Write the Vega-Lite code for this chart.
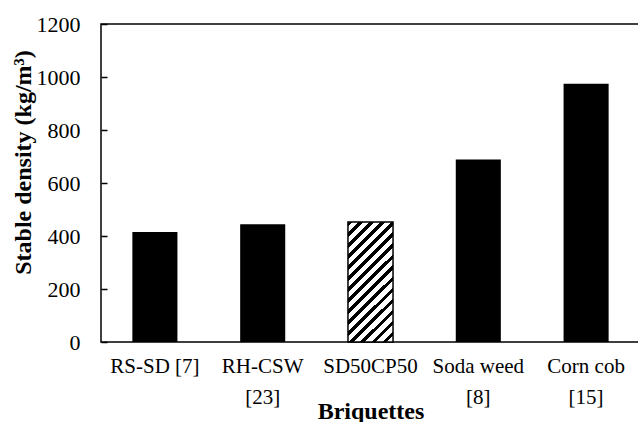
{
  "$schema": "https://vega.github.io/schema/vega-lite/v6.json",
  "autosize": "none",
  "padding": {"left": 101, "top": 24, "right": 0, "bottom": 80},
  "width": 539,
  "height": 318,
  "background": "white",
  "config": {
    "view": {"stroke": "black", "strokeWidth": 1.5},
    "font": "Liberation Serif"
  },
  "data": {
    "values": [
      {"briquette": "RS-SD [7]", "density": 415, "type": "lit"},
      {"briquette": "RH-CSW|[23]", "density": 444, "type": "lit"},
      {"briquette": "SD50CP50", "density": 453, "type": "this"},
      {"briquette": "Soda weed|[8]", "density": 689, "type": "lit"},
      {"briquette": "Corn cob|[15]", "density": 975, "type": "lit"}
    ]
  },
  "encoding": {
    "x": {
      "field": "briquette",
      "type": "nominal",
      "sort": null,
      "scale": {
        "domain": ["RS-SD [7]", "RH-CSW|[23]", "SD50CP50", "Soda weed|[8]", "Corn cob|[15]"],
        "paddingInner": 0.582, "paddingOuter": 0.291
      },
      "axis": {
        "title": "Briquettes",
        "titleFont": "Liberation Serif",
        "titleFontSize": 24,
        "titleFontWeight": "bold",
        "titleColor": "black",
        "titleBaseline": "alphabetic",
        "titleY": 76,
        "labelExpr": "split(datum.label, '|')",
        "labelFont": "Liberation Serif",
        "labelFontSize": 21,
        "labelColor": "black",
        "labelAngle": 0,
        "labelBaseline": "top",
        "labelPadding": 13,
        "labelLineHeight": 31,
        "labelOverlap": false,
        "ticks": false,
        "domain": false
      }
    },
    "y": {
      "field": "density",
      "type": "quantitative",
      "scale": {"domain": [0, 1200], "nice": false},
      "axis": {
        "title": "Stable density (kg/m³)",
        "titleFont": "Liberation Serif",
        "titleFontSize": 24,
        "titleFontWeight": "bold",
        "titleColor": "black",
        "titleX": -78,
        "titleY": 138,
        "titleAngle": -90,
        "titleAlign": "center",
        "titleBaseline": "middle",
        "values": [0, 200, 400, 600, 800, 1000, 1200],
        "format": "d",
        "labelFont": "Liberation Serif",
        "labelFontSize": 22,
        "labelColor": "black",
        "labelPadding": 27,
        "labelFlush": false,
        "tickSize": -6,
        "tickColor": "black",
        "tickWidth": 1.5,
        "domain": false,
        "grid": false
      }
    }
  },
  "layer": [
    {
      "transform": [{"filter": "datum.type === 'lit'"}],
      "mark": {"type": "bar", "color": "black"}
    },
    {
      "transform": [{"filter": "datum.type === 'this'"}],
      "mark": {
        "type": "bar",
        "stroke": "black",
        "strokeWidth": 1.5,
        "fill": {
          "gradient": "linear",
          "x1": 0, "y1": 0, "x2": 0.452, "y2": 1.2055,
          "stops": [
            {"offset": 0, "color": "black"}, {"offset": 0.028, "color": "black"}, {"offset": 0.028, "color": "white"}, {"offset": 0.0667, "color": "white"},
            {"offset": 0.0667, "color": "black"}, {"offset": 0.0947, "color": "black"}, {"offset": 0.0947, "color": "white"}, {"offset": 0.1333, "color": "white"},
            {"offset": 0.1333, "color": "black"}, {"offset": 0.1613, "color": "black"}, {"offset": 0.1613, "color": "white"}, {"offset": 0.2, "color": "white"},
            {"offset": 0.2, "color": "black"}, {"offset": 0.228, "color": "black"}, {"offset": 0.228, "color": "white"}, {"offset": 0.2667, "color": "white"},
            {"offset": 0.2667, "color": "black"}, {"offset": 0.2947, "color": "black"}, {"offset": 0.2947, "color": "white"}, {"offset": 0.3333, "color": "white"},
            {"offset": 0.3333, "color": "black"}, {"offset": 0.3613, "color": "black"}, {"offset": 0.3613, "color": "white"}, {"offset": 0.4, "color": "white"},
            {"offset": 0.4, "color": "black"}, {"offset": 0.428, "color": "black"}, {"offset": 0.428, "color": "white"}, {"offset": 0.4667, "color": "white"},
            {"offset": 0.4667, "color": "black"}, {"offset": 0.4947, "color": "black"}, {"offset": 0.4947, "color": "white"}, {"offset": 0.5333, "color": "white"},
            {"offset": 0.5333, "color": "black"}, {"offset": 0.5613, "color": "black"}, {"offset": 0.5613, "color": "white"}, {"offset": 0.6, "color": "white"},
            {"offset": 0.6, "color": "black"}, {"offset": 0.628, "color": "black"}, {"offset": 0.628, "color": "white"}, {"offset": 0.6667, "color": "white"},
            {"offset": 0.6667, "color": "black"}, {"offset": 0.6947, "color": "black"}, {"offset": 0.6947, "color": "white"}, {"offset": 0.7333, "color": "white"},
            {"offset": 0.7333, "color": "black"}, {"offset": 0.7613, "color": "black"}, {"offset": 0.7613, "color": "white"}, {"offset": 0.8, "color": "white"},
            {"offset": 0.8, "color": "black"}, {"offset": 0.828, "color": "black"}, {"offset": 0.828, "color": "white"}, {"offset": 0.8667, "color": "white"},
            {"offset": 0.8667, "color": "black"}, {"offset": 0.8947, "color": "black"}, {"offset": 0.8947, "color": "white"}, {"offset": 0.9333, "color": "white"},
            {"offset": 0.9333, "color": "black"}, {"offset": 0.9613, "color": "black"}, {"offset": 0.9613, "color": "white"}, {"offset": 1, "color": "white"}
          ]
        }
      }
    }
  ]
}
